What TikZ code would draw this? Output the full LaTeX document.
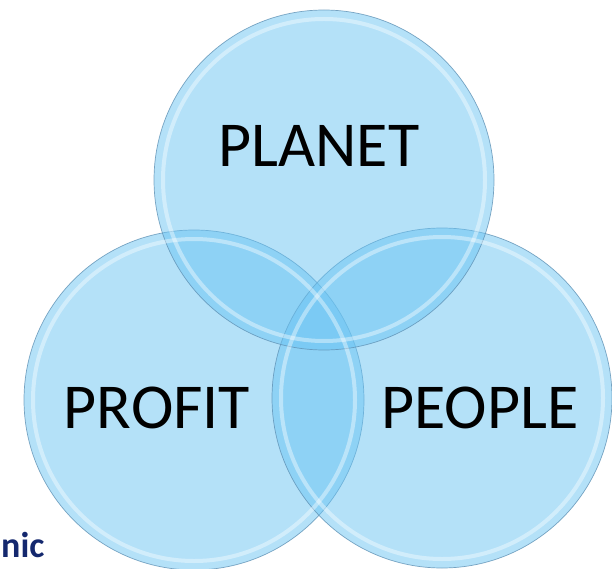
\documentclass[tikz,border=0pt]{standalone}
\usepackage{fontspec}
\setmainfont{Carlito}
\definecolor{bubble}{RGB}{105,195,242}
\definecolor{bubbleedge}{RGB}{95,145,180}
\definecolor{navy}{RGB}{20,40,110}
\begin{document}
\begin{tikzpicture}[x=1pt,y=-1pt]
    \tikzstyle{disc}=[circle,minimum size=340pt,inner sep=0pt,fill=bubble,fill opacity=0.5,draw=bubbleedge,draw opacity=0.8,line width=0.7pt]
    \tikzstyle{gloss}=[white,line width=4pt,opacity=0.4]
    \tikzstyle{word}=[font=\fontsize{64}{64}\selectfont,text=black]
    \useasboundingbox (0,0) rectangle (612,569);

    \node[disc] (profit) at (194,400) {};
    \node[disc] (people) at (442,398) {};
    \node[disc] (planet) at (324,180) {};
      \draw[gloss] (profit.center) circle (161);
      \draw[gloss] (people.center) circle (161);
      \draw[gloss] (planet.center) circle (161);

    \node[word] (planetlbl) at (319,146) {PLANET};
    \node[word] (profitlbl) at (157,408) {PROFIT};
    \node[word] (peoplelbl) at (480,408) {PEOPLE};

    \node[anchor=base west,inner sep=0pt,text=navy,font=\fontsize{36}{36}\selectfont\bfseries] (cut) at (1,557) {nic};
  \end{tikzpicture}
\end{document}
